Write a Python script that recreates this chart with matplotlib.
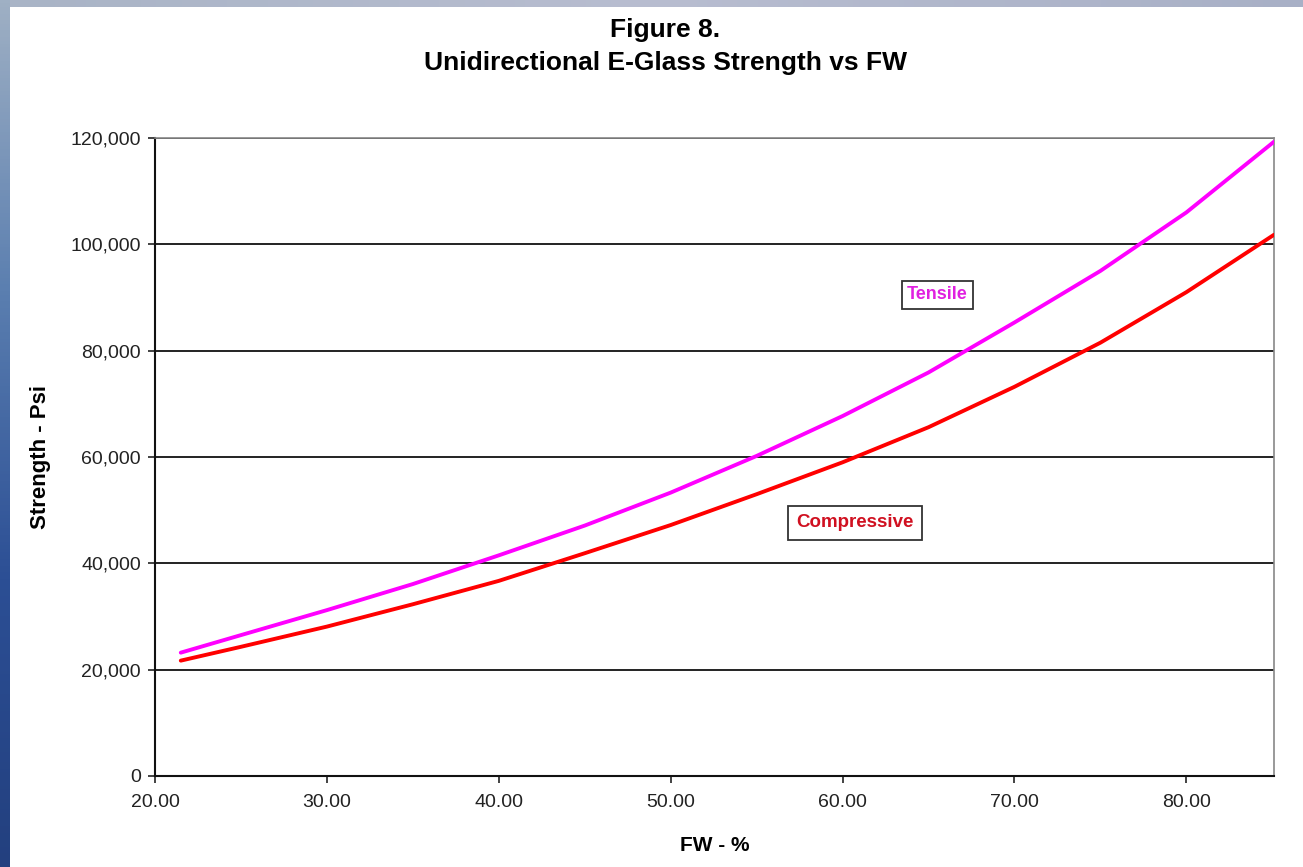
import numpy as np
import matplotlib
matplotlib.use("Agg")
import matplotlib.pyplot as plt
from matplotlib.ticker import FuncFormatter
from matplotlib.colors import LinearSegmentedColormap

# ---- data ----
fw = [21.5, 25, 30, 35, 40, 45, 50, 55, 60, 65, 70, 75, 80, 85.1]
tensile = [23200, 26500, 31200, 36100, 41500, 47100, 53300, 60200,
           67700, 75900, 85300, 95000, 106000, 119300]
compressive = [21700, 24300, 28100, 32300, 36700, 41900, 47200, 53000,
               59000, 65600, 73200, 81500, 91000, 101800]
x_ticks = [20, 30, 40, 50, 60, 70, 80]
y_ticks = [0, 20000, 40000, 60000, 80000, 100000, 120000]

title_lines = ["Figure 8.", "Unidirectional E-Glass Strength vs FW"]
x_label = "FW - %"
y_label = "Strength - Psi"

plt.rcParams['font.family'] = ['Liberation Sans', 'DejaVu Sans']

W, H = 1303, 867
fig = plt.figure(figsize=(W / 100, H / 100), dpi=100)
fig.patch.set_facecolor('white')

# slide background strips (left and top)
grad = np.linspace(0, 1, 256).reshape(-1, 1)
cm_left = LinearSegmentedColormap.from_list('l', ['#9fb0c4', '#5b7fb0', '#2c4f95', '#23407f'])
axl = fig.add_axes([0, 0, 10 / W, 1])
axl.imshow(grad, aspect='auto', cmap=cm_left, extent=[0, 1, 1, 0])
axl.axis('off')
cm_top = LinearSegmentedColormap.from_list('t', ['#a9b4c6', '#b8bdd0', '#a8b0c6'])
axt = fig.add_axes([10 / W, 1 - 7 / H, 1 - 10 / W, 7 / H])
axt.imshow(grad.T, aspect='auto', cmap=cm_top)
axt.axis('off')

ax = fig.add_axes([155 / W, (H - 776) / H, (1274 - 155) / W, (776 - 138) / H])
ax.set_facecolor('white')

ax.plot(fw, tensile, color='#FF00FF', lw=2.8, solid_capstyle='round', zorder=3)
ax.plot(fw, compressive, color='#FF0000', lw=2.8, solid_capstyle='round', zorder=3)

ax.set_xlim(20, 85.1)
ax.set_ylim(0, 120000)
ax.set_xticks(x_ticks)
ax.set_yticks(y_ticks)
ax.xaxis.set_major_formatter(FuncFormatter(lambda v, p: f"{v:.2f}"))
ax.yaxis.set_major_formatter(FuncFormatter(lambda v, p: f"{int(v):,}"))
ax.tick_params(axis='both', direction='out', length=5, width=1.2, color='#222222',
               labelsize=14, labelcolor='#222222', pad=5)
ax.tick_params(axis='x', pad=8)
ax.yaxis.grid(True, color='#111111', lw=1.3)
ax.set_axisbelow(True)
for s in ['left', 'bottom']:
    ax.spines[s].set_color('#111111')
    ax.spines[s].set_linewidth(1.5)
for s in ['top', 'right']:
    ax.spines[s].set_color('#888888')
    ax.spines[s].set_linewidth(1.2)

ax.set_xlabel(x_label, fontsize=15, fontweight='bold', labelpad=18)
ax.set_ylabel(y_label, fontsize=16, fontweight='bold', labelpad=14)

fig.text(665 / W, 1 - 30 / H, title_lines[0], ha='center', va='center',
         fontsize=19, fontweight='bold')
fig.text(665 / W, 1 - 63 / H, title_lines[1], ha='center', va='center',
         fontsize=19, fontweight='bold')

# label boxes
ax.text(63.75, 90500, "Tensile", color='#E020E0', fontsize=13, fontweight='bold',
        va='center', ha='left', zorder=4,
        bbox=dict(boxstyle='square,pad=0.3', fc='white', ec='#333333', lw=1.3))
ax.text(57.3, 47600, "Compressive", color='#D01020', fontsize=13.5, fontweight='bold',
        va='center', ha='left', zorder=4,
        bbox=dict(boxstyle='square,pad=0.45', fc='white', ec='#333333', lw=1.3))

fig.savefig('out.png', dpi=100, facecolor=fig.get_facecolor())
